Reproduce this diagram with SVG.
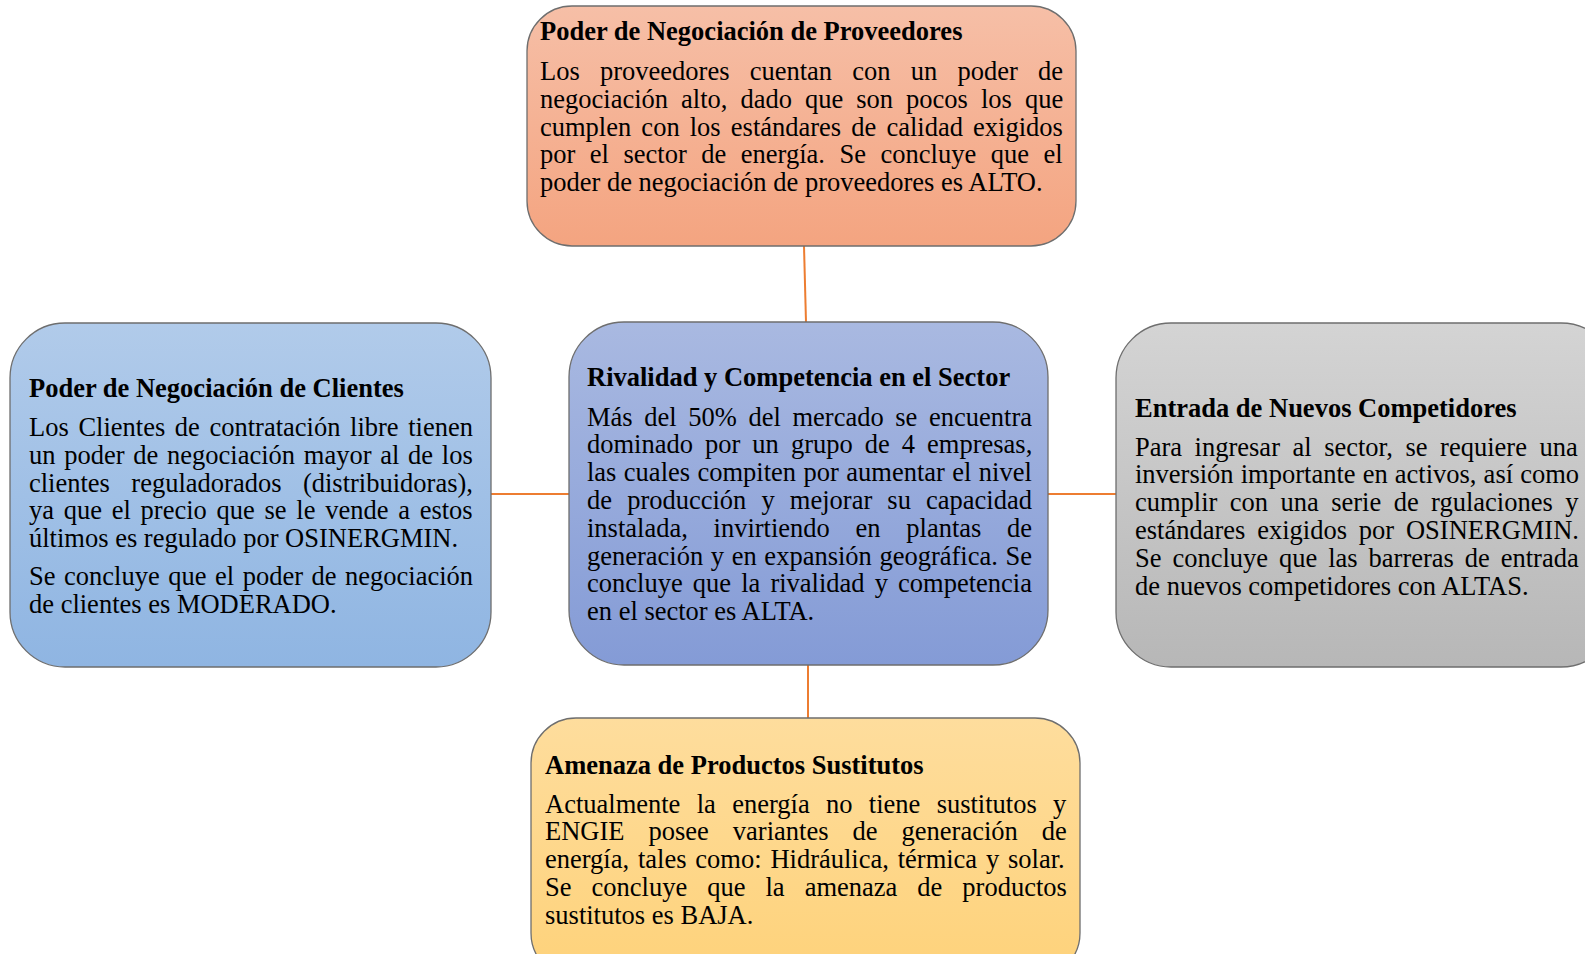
<svg xmlns="http://www.w3.org/2000/svg" width="1585" height="954" viewBox="0 0 1585 954">
<defs>
<linearGradient id="gTop" x1="0" y1="0" x2="0" y2="1"><stop offset="0" stop-color="#f6bfa7"/><stop offset="1" stop-color="#f4a480"/></linearGradient>
<linearGradient id="gLeft" x1="0" y1="0" x2="0" y2="1"><stop offset="0" stop-color="#b1cbea"/><stop offset="1" stop-color="#8fb5e2"/></linearGradient>
<linearGradient id="gCenter" x1="0" y1="0" x2="0" y2="1"><stop offset="0" stop-color="#a9b9e1"/><stop offset="1" stop-color="#849bd6"/></linearGradient>
<linearGradient id="gRight" x1="0" y1="0" x2="0" y2="1"><stop offset="0" stop-color="#d4d4d4"/><stop offset="1" stop-color="#b7b7b7"/></linearGradient>
<linearGradient id="gBottom" x1="0" y1="0" x2="0" y2="1"><stop offset="0" stop-color="#fedd9d"/><stop offset="1" stop-color="#fed27a"/></linearGradient>
</defs>
<style>
.box{stroke:#6e6e6e;stroke-width:1.3}
text{font-family:"Liberation Serif","Times New Roman",serif;font-size:26.5px;fill:#000}
.t{font-weight:bold}
.conn{stroke:#ed7d31;stroke-width:2;fill:none}
</style>
<g id="connectors">
<line class="conn" x1="804" y1="246" x2="806" y2="322"/>
<line class="conn" x1="491" y1="494" x2="569" y2="494"/>
<line class="conn" x1="1048" y1="494" x2="1116" y2="494"/>
<line class="conn" x1="808" y1="665" x2="808" y2="718"/>
</g>
<g id="proveedores">
<rect class="box" x="527" y="6" width="549" height="240" rx="45" fill="url(#gTop)"/>
<text class="t" x="540" y="40">Poder de Negociación de Proveedores</text>
<text x="540" y="80" style="word-spacing:13.6px">Los proveedores cuentan con un poder de</text>
<text x="540" y="107.8" style="word-spacing:6.4px">negociación alto, dado que son pocos los que</text>
<text x="540" y="135.6" style="word-spacing:3.5px">cumplen con los estándares de calidad exigidos</text>
<text x="540" y="163.4" style="word-spacing:7.9px">por el sector de energía. Se concluye que el</text>
<text x="540" y="191.2">poder de negociación de proveedores es ALTO.</text>
</g>
<g id="clientes">
<rect class="box" x="10" y="323" width="481" height="344" rx="55" fill="url(#gLeft)"/>
<text class="t" x="29" y="397">Poder de Negociación de Clientes</text>
<text x="29" y="436" style="word-spacing:3.0px">Los Clientes de contratación libre tienen</text>
<text x="29" y="463.8" style="word-spacing:2.1px">un poder de negociación mayor al de los</text>
<text x="29" y="491.6" style="word-spacing:14.8px">clientes reguladorados (distribuidoras),</text>
<text x="29" y="519.4" style="word-spacing:3.1px">ya que el precio que se le vende a estos</text>
<text x="29" y="547.2">últimos es regulado por OSINERGMIN.</text>
<text x="29" y="585" style="word-spacing:1.9px">Se concluye que el poder de negociación</text>
<text x="29" y="612.8">de clientes es MODERADO.</text>
</g>
<g id="rivalidad">
<rect class="box" x="569" y="322" width="479" height="343" rx="55" fill="url(#gCenter)"/>
<text class="t" x="587" y="386">Rivalidad y Competencia en el Sector</text>
<text x="587" y="425.5" style="word-spacing:5.0px">Más del 50% del mercado se encuentra</text>
<text x="587" y="453.3" style="word-spacing:5.4px">dominado por un grupo de 4 empresas,</text>
<text x="587" y="481.1" style="word-spacing:0.8px">las cuales compiten por aumentar el nivel</text>
<text x="587" y="508.9" style="word-spacing:8.5px">de producción y mejorar su capacidad</text>
<text x="587" y="536.7" style="word-spacing:19.1px">instalada, invirtiendo en plantas de</text>
<text x="587" y="564.5" style="word-spacing:1.0px">generación y en expansión geográfica. Se</text>
<text x="587" y="592.3" style="word-spacing:3.5px">concluye que la rivalidad y competencia</text>
<text x="587" y="620.1">en el sector es ALTA.</text>
</g>
<g id="nuevos">
<rect class="box" x="1116" y="323" width="500" height="344" rx="55" fill="url(#gRight)"/>
<text class="t" x="1135" y="416.5">Entrada de Nuevos Competidores</text>
<text x="1135" y="455.5" style="word-spacing:5.9px">Para ingresar al sector, se requiere una</text>
<text x="1135" y="483.3" style="word-spacing:0.5px">inversión importante en activos, así como</text>
<text x="1135" y="511.1" style="word-spacing:5.8px">cumplir con una serie de rgulaciones y</text>
<text x="1135" y="538.9" style="word-spacing:5.2px">estándares exigidos por OSINERGMIN.</text>
<text x="1135" y="566.7" style="word-spacing:4.3px">Se concluye que las barreras de entrada</text>
<text x="1135" y="594.5">de nuevos competidores con ALTAS.</text>
</g>
<g id="sustitutos">
<rect class="box" x="531" y="718" width="549" height="260" rx="45" fill="url(#gBottom)"/>
<text class="t" x="545" y="773.5">Amenaza de Productos Sustitutos</text>
<text x="545" y="812.5" style="word-spacing:9.7px">Actualmente la energía no tiene sustitutos y</text>
<text x="545" y="840.3" style="word-spacing:17.4px">ENGIE posee variantes de generación de</text>
<text x="545" y="868.1" style="word-spacing:2.2px">energía, tales como: Hidráulica, térmica y solar.</text>
<text x="545" y="895.9" style="word-spacing:13.4px">Se concluye que la amenaza de productos</text>
<text x="545" y="923.7">sustitutos es BAJA.</text>
</g>
</svg>
